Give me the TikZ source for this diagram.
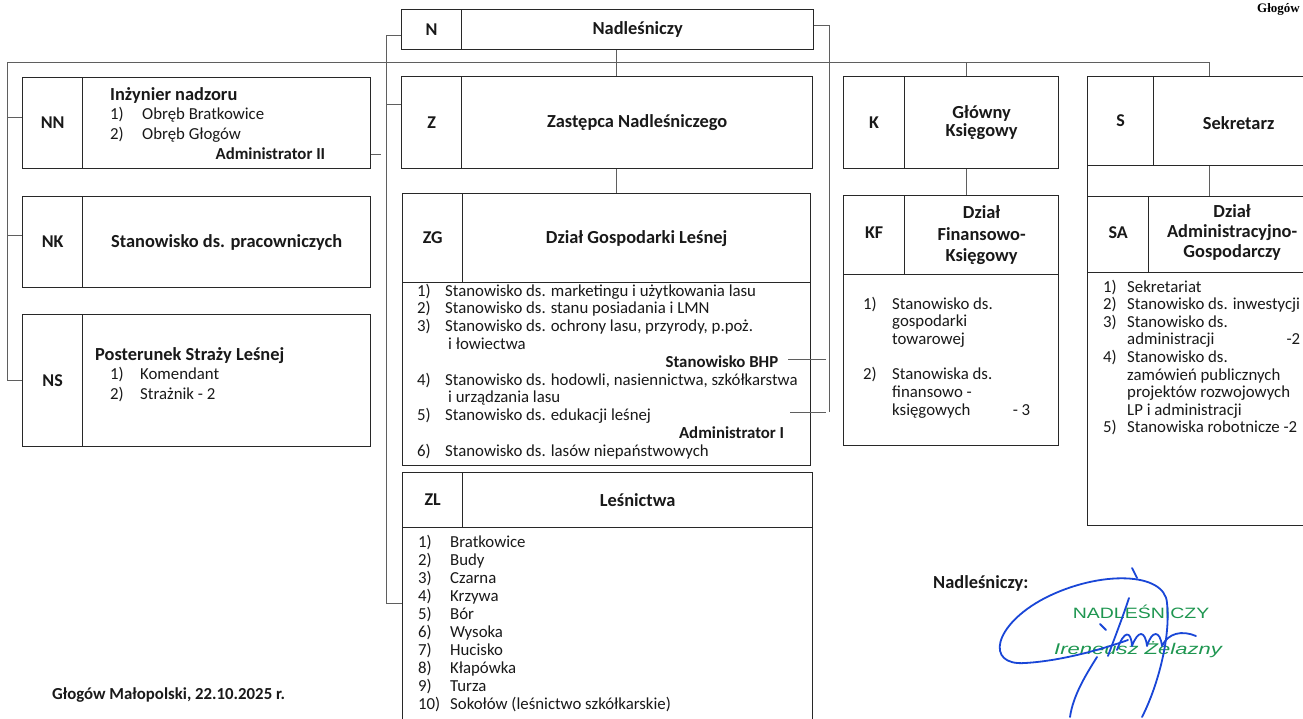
\documentclass[tikz,border=0pt]{standalone}
\usepackage{fontspec}
\setmainfont{Carlito}
\newfontfamily\serifbf{Liberation Serif}
\newfontfamily\stampfnt{Liberation Sans}
\newcommand\hdrfont{\fontsize{18.4}{20.5}\selectfont\bfseries}
\newcommand\labfont{\fontsize{18}{20}\selectfont\bfseries}
\newcommand\bodyfont[1]{\fontsize{16.8}{#1}\selectfont}
\definecolor{sigblue}{RGB}{25,70,215}
\definecolor{stampgreen}{RGB}{30,150,80}
\definecolor{boxline}{RGB}{40,40,40}
\definecolor{connline}{RGB}{95,95,95}
\tikzset{
  cellbox/.style={draw=boxline, line width=1.3pt, inner sep=0pt, anchor=north west, font=\labfont, text=black!90},
  conn/.style={draw=connline, line width=0.9pt},
  ttl/.style={font=\hdrfont, align=center, inner sep=0pt, text=black!90},
  lst/.style={anchor=base west, inner sep=0pt, text=black!90},
  sig/.style={draw=sigblue, line width=1.8pt, line cap=round, line join=round},
}
\begin{document}
\begin{tikzpicture}[x=1pt,y=-1pt]
\useasboundingbox (0,0) rectangle (1303,718);
\fill[white] (0,0) rectangle (1303,718);

% ---------- boxes ----------
% N
\node[cellbox, minimum width=60pt, minimum height=40pt] (N-a) at (401,9) {N};
\node[cellbox, minimum width=352pt, minimum height=40pt] (N-b) at (461,9) {};
\node[ttl] (N-t) at (N-b) {Nadleśniczy};
% Z
\node[cellbox, minimum width=60pt, minimum height=92pt] (Z-a) at (401,76) {Z};
\node[cellbox, minimum width=351pt, minimum height=92pt] (Z-b) at (461,76) {};
\node[ttl] (Z-t) at (Z-b) {Zastępca Nadleśniczego};
% ZG
\node[cellbox, minimum width=60pt, minimum height=89pt] (ZG-a) at (402,193) {ZG};
\node[cellbox, minimum width=348pt, minimum height=89pt] (ZG-b) at (462,193) {};
\node[cellbox, minimum width=408pt, minimum height=183pt] (ZG-c) at (402,282) {};
\node[ttl] (ZG-t) at (ZG-b) {Dział Gospodarki Leśnej};
% ZL
\node[cellbox, minimum width=60pt, minimum height=55pt] (ZL-a) at (402,472) {ZL};
\node[cellbox, minimum width=350pt, minimum height=55pt] (ZL-b) at (462,472) {};
\node[cellbox, minimum width=410pt, minimum height=200pt] (ZL-c) at (402,527) {};
\node[ttl] (ZL-t) at (ZL-b) {Leśnictwa};
% NN
\node[cellbox, minimum width=60pt, minimum height=91pt] (NN-a) at (22,77) {NN};
\node[cellbox, minimum width=288pt, minimum height=91pt] (NN-b) at (82,77) {};
% NK
\node[cellbox, minimum width=60pt, minimum height=91pt] (NK-a) at (22,196) {NK};
\node[cellbox, minimum width=288pt, minimum height=91pt] (NK-b) at (82,196) {};
\node[ttl] (NK-t) at (NK-b) {Stanowisko ds. pracowniczych};
% NS
\node[cellbox, minimum width=60pt, minimum height=132pt] (NS-a) at (22,314) {NS};
\node[cellbox, minimum width=288pt, minimum height=132pt] (NS-b) at (82,314) {};
% K
\node[cellbox, minimum width=61pt, minimum height=92pt] (K-a) at (843,76) {K};
\node[cellbox, minimum width=154pt, minimum height=92pt] (K-b) at (904,76) {};
\node[ttl, font=\fontsize{18.4}{18.5}\selectfont\bfseries] (K-t) at (K-b) {Główny\\Księgowy};
% KF
\node[cellbox, minimum width=61pt, minimum height=79pt] (KF-a) at (843,195) {\raisebox{5pt}{KF}};
\node[cellbox, minimum width=154pt, minimum height=79pt] (KF-b) at (904,195) {};
\node[cellbox, minimum width=215pt, minimum height=171pt] (KF-c) at (843,274) {};
\node[ttl, font=\fontsize{18.4}{21.5}\selectfont\bfseries] (KF-t) at (KF-b) {Dział\\Finansowo-\\Księgowy};
% S / SA
\node[cellbox, minimum width=228pt, minimum height=449pt] (S-o) at (1087,76) {};
\node[cellbox, minimum width=66pt, minimum height=89pt] (S-a) at (1087,76) {S};
\node[cellbox, minimum width=162pt, minimum height=89pt] (S-b) at (1153,76) {};
\node[ttl] (S-t) at ([xshift=4pt,yshift=-2pt]S-b.center) {Sekretarz};
\node[cellbox, minimum width=61pt, minimum height=76pt] (SA-a) at (1087,196) {\raisebox{4pt}{SA}};
\node[cellbox, minimum width=167pt, minimum height=76pt] (SA-b) at (1148,196) {};
\node[ttl, font=\fontsize{18.4}{20}\selectfont\bfseries] (SA-t) at ([yshift=2pt]SA-b.center) {Dział\\Administracyjno-\\Gospodarczy};

% ---------- lists ----------
\node[lst] (NN-l) at (110,100) {\bodyfont{19.7}\begin{tabular}[t]{@{}p{32pt}@{}l@{}}
\multicolumn{2}{@{}l@{}}{\hdrfont Inżynier nadzoru}\\
1) & Obręb Bratkowice\\
2) & Obręb Głogów\\
\multicolumn{2}{@{}l@{}}{\makebox[215pt][r]{\bfseries Administrator II}}
\end{tabular}};

\node[lst] (NS-l) at (95,360) {\bodyfont{19.5}\begin{tabular}[t]{@{}p{45pt}@{}l@{}}
\multicolumn{2}{@{}l@{}}{\hdrfont Posterunek Straży Leśnej}\\
\hspace*{15pt}1) & Komendant\\
\hspace*{15pt}2) & Strażnik - 2
\end{tabular}};

\node[lst] (ZG-l) at (417,296) {\bodyfont{17.8}\begin{tabular}[t]{@{}p{28pt}@{}l@{}}
1) & Stanowisko ds. marketingu i użytkowania lasu\\
2) & Stanowisko ds. stanu posiadania i LMN\\
3) & Stanowisko ds. ochrony lasu, przyrody, p.poż.\\
 & \hspace*{3pt}i łowiectwa\\
\multicolumn{2}{@{}l@{}}{\makebox[367pt][r]{\bfseries Stanowisko BHP\hspace*{6pt}}}\\
4) & Stanowisko ds. hodowli, nasiennictwa, szkółkarstwa\\
 & \hspace*{3pt}i urządzania lasu\\
5) & Stanowisko ds. edukacji leśnej\\
\multicolumn{2}{@{}l@{}}{\makebox[367pt][r]{\bfseries Administrator I}}\\
6) & Stanowisko ds. lasów niepaństwowych
\end{tabular}};

\node[lst] (ZL-l) at (418,547) {\bodyfont{18}\begin{tabular}[t]{@{}p{32pt}@{}l@{}}
1) & Bratkowice\\
2) & Budy\\
3) & Czarna\\
4) & Krzywa\\
5) & Bór\\
6) & Wysoka\\
7) & Hucisko\\
8) & Kłapówka\\
9) & Turza\\
10) & Sokołów (leśnictwo szkółkarskie)
\end{tabular}};

\node[lst] (KF-l) at (863,309) {\bodyfont{17.7}\begin{tabular}[t]{@{}p{29pt}@{}l@{}}
1) & Stanowisko ds.\\
 & gospodarki\\
 & towarowej\\
 & \\
2) & Stanowiska ds.\\
 & finansowo -\\
 & \makebox[138pt][l]{księgowych\hfill - 3}
\end{tabular}};

\node[lst] (SA-l) at (1103,292) {\bodyfont{17.6}\begin{tabular}[t]{@{}p{24pt}@{}l@{}}
1) & Sekretariat\\
2) & Stanowisko ds. inwestycji\\
3) & Stanowisko ds.\\
 & \makebox[173pt][l]{administracji\hfill -2}\\
4) & Stanowisko ds.\\
 & zamówień publicznych\\
 & projektów rozwojowych\\
 & LP i administracji\\
5) & Stanowiska robotnicze -2
\end{tabular}};

% ---------- connectors ----------
\coordinate (busL) at (7,62);
\coordinate (busR) at (1209,62);
\coordinate (cx) at (616,0);
\coordinate (kx) at (966,0);
\coordinate (lv) at (386,603);
\coordinate (rv) at (829,412);

\draw[conn] (busL) -- (busR);
\draw[conn] (busL) |- (NS-a.west);
\draw[conn] ([yshift=5.5pt]NN-a.west) -- ([yshift=5.5pt]NN-a.west -| busL);
\draw[conn] ([yshift=6.5pt]NK-a.west) -- ([yshift=6.5pt]NK-a.west -| busL);
\draw[conn] (N-b.south -| cx) -- (Z-b.north -| cx);
\draw[conn] (Z-b.south -| cx) -- (ZG-b.north -| cx);
\draw[conn] (busL -| kx) -- (K-b.north -| kx);
\draw[conn] (K-b.south -| kx) -- (KF-b.north -| kx);
\draw[conn] (busR) -- (S-b.north -| busR);
\draw[conn] (S-b.south -| busR) -- (SA-b.north -| busR);
\draw[conn] ([yshift=-6pt]N-a.west) -| (lv) -- (lv -| ZL-c.west);
\draw[conn] ([yshift=18pt]Z-a.west) -- ([yshift=18pt]Z-a.west -| lv);
\draw[conn] ([yshift=-31.5pt]NN-b.east) -- ++(10,0);
\draw[conn] ([yshift=4pt]N-b.east) -| (rv);
\draw[conn] ([xshift=-23pt,yshift=14.5pt]ZG-c.east) -- ++(38,0);
\draw[conn] ([xshift=-21pt,yshift=-38.5pt]ZG-c.east) -- ++(36,0);

% ---------- other texts ----------
\node[anchor=east, inner sep=0pt, font=\serifbf\bfseries\fontsize{13}{13}\selectfont] (town) at (1300,9) {Głogów};
\node[anchor=west, inner sep=0pt, font=\bodyfont{18}\bfseries, text=black!90] (date) at (52,695) {Głogów Małopolski, 22.10.2025 r.};
\node[anchor=west, inner sep=0pt, font=\hdrfont, text=black!90] (signlab) at (933,583) {Nadleśniczy:};
\node[inner sep=0pt, font=\stampfnt\fontsize{15}{15}\selectfont, text=stampgreen] (stamp1) at (1141,612) {\scalebox{1.3}[1]{NADLEŚNICZY}};
\node[inner sep=0pt, font=\stampfnt\itshape\fontsize{15.5}{15.5}\selectfont, text=stampgreen] (stamp2) at (1138,650) {\scalebox{1.42}[1]{Ireneusz Żelazny}};

% ---------- signature ----------
\draw[sig] (1167,603) .. controls (1165,572) and (1100,570) .. (1045,598) .. controls (993,625) and (985,666) .. (1025,663) .. controls (1060,661) and (1100,650) .. (1128,640);
\draw[sig] (1132,568) -- (1137,578);
\draw[sig] (1129,598) .. controls (1121,622) and (1113,642) .. (1108,656);
\draw[sig] (1167,603) .. controls (1171,640) and (1156,690) .. (1142,717);
\draw[sig] (1097,657) .. controls (1085,676) and (1073,696) .. (1070,717);
\draw[sig] (1117,650) .. controls (1124,630) and (1131,630) .. (1132,646) .. controls (1138,630) and (1145,630) .. (1147,646) .. controls (1152,630) and (1160,630) .. (1162,646) .. controls (1168,633) and (1182,630) .. (1196,636);
\draw[sig] (1100,624) -- (1106,630);
\end{tikzpicture}
\end{document}
